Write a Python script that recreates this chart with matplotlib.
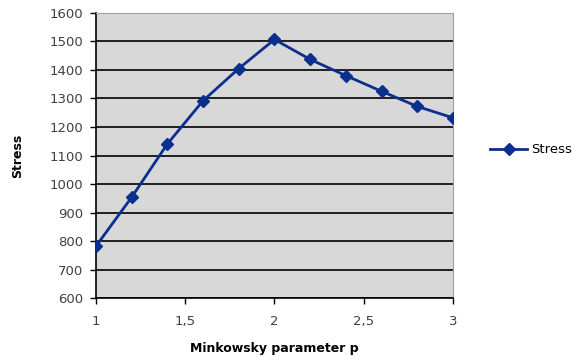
import numpy as np
import matplotlib
matplotlib.use("Agg")
from matplotlib import pyplot as plt

# Minkowsky parameter p vs. stress
p = [1.0, 1.2, 1.4, 1.6, 1.8, 2.0, 2.2, 2.4, 2.6, 2.8, 3.0]
stress = [781, 953, 1140, 1292, 1405, 1507, 1437, 1380, 1325, 1272, 1232]

x_ticks = [1, 1.5, 2, 2.5, 3]
x_labels = ["1", "1,5", "2", "2,5", "3"]
y_ticks = list(range(600, 1700, 100))

plt.rcParams['font.family'] = ['DejaVu Sans']

fig = plt.figure(figsize=(5.84, 3.6), dpi=100)
ax = fig.add_axes([0.164, 0.172, 0.612, 0.792])
ax.set_facecolor('#d8d8d8')

ax.plot(p, stress, color='#0b2f8e', lw=2, marker='D', ms=6.5,
        mec='#0b2f8e', mfc='#0b2f8e', label='Stress', zorder=3)

ax.set_xlim(1, 3)
ax.set_ylim(600, 1600)
ax.set_xticks(x_ticks)
ax.set_xticklabels(x_labels)
ax.set_yticks(y_ticks)
ax.yaxis.grid(True, color='#111111', lw=1.3)
ax.set_axisbelow(True)

for s in ['top', 'right']:
    ax.spines[s].set_color('#a0a0a0')
for s in ['left', 'bottom']:
    ax.spines[s].set_color('#000000')
    ax.spines[s].set_linewidth(1.2)

ax.tick_params(axis='both', direction='out', length=4, width=1,
               labelsize=9.5, labelcolor='#404040', color='#000000')
ax.tick_params(axis='x', pad=8)
ax.tick_params(axis='y', pad=5)

ax.set_xlabel('Minkowsky parameter p', fontsize=9, fontweight='bold', labelpad=10)
ax.set_ylabel('Stress', fontsize=9, fontweight='bold', labelpad=18)

ax.legend(loc='center left', bbox_to_anchor=(1.07, 0.52), frameon=False,
          fontsize=9.5, handlelength=2.8, handletextpad=0.3)

fig.savefig('out.png', dpi=100)
